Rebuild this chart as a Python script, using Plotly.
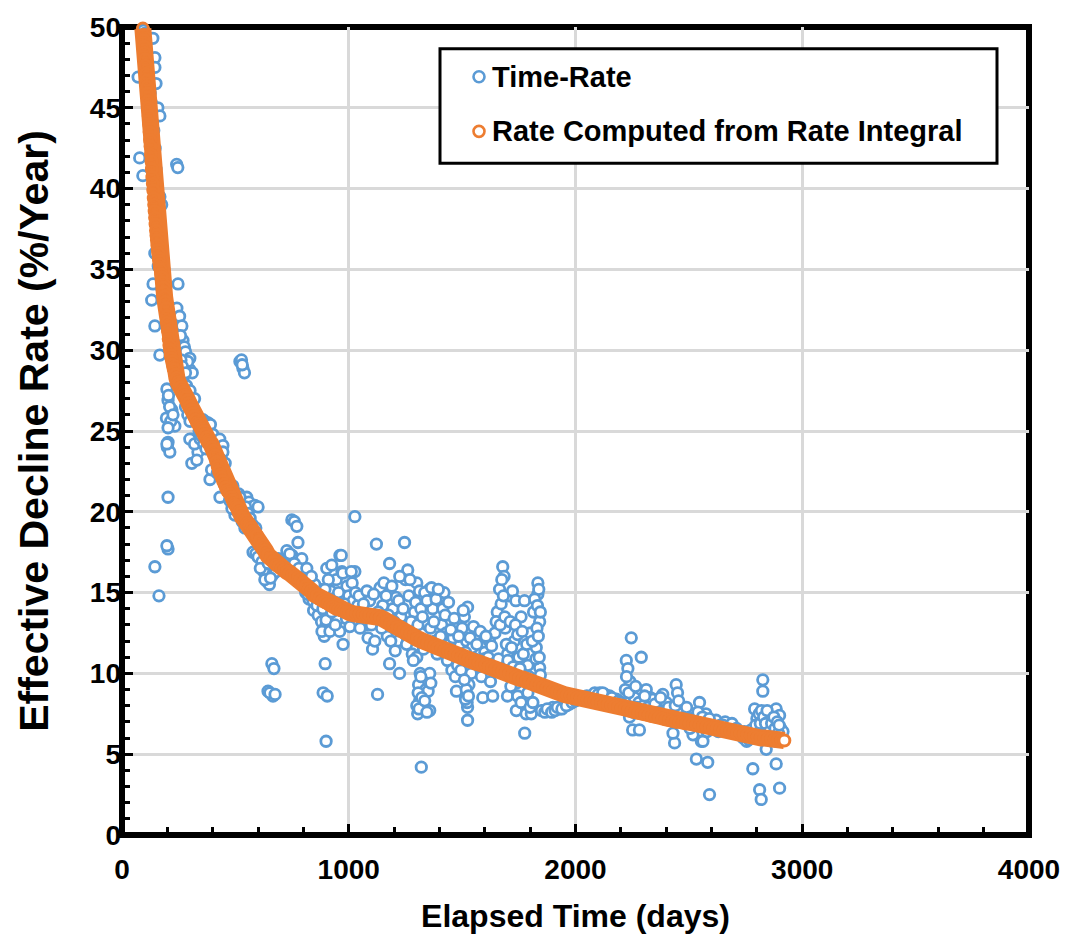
import plotly.graph_objects as go

# ---- measured time-rate effective decline (days, %/year) ----
time_rate_early = [
    (71, 46.9), (78, 41.9), (92, 40.8), (95, 49.8), (100, 49.6), (104, 48.9), (108, 48.2),
    (112, 47.3), (118, 46.6), (124, 45.9), (130, 45.3), (136, 49.3), (145, 48.1), (145, 47.5),
    (150, 46.5), (158, 45.0), (167, 44.5), (140, 43.6), (146, 42.5), (150, 41.2), (153, 40.3),
    (167, 39.5), (175, 39.0), (159, 39.0), (160, 37.8), (163, 37.0), (158, 36.2), (145, 36.0),
    (160, 35.2), (137, 34.1), (131, 33.1), (145, 31.5), (167, 29.7), (176, 33.8), (185, 34.6),
    (190, 33.9), (195, 33.0), (200, 32.4), (205, 31.9), (210, 31.2), (215, 30.7), (220, 30.2),
    (241, 41.5), (246, 41.3), (247, 34.1), (242, 32.6), (254, 32.1), (264, 31.5), (269, 30.6),
    (258, 30.9), (275, 30.2), (280, 29.9), (299, 29.5), (299, 28.8), (290, 29.3), (310, 28.6),
    (198, 27.6), (203, 26.9), (220, 26.3), (233, 25.3), (203, 24.3), (200, 24.0), (196, 25.8),
    (210, 26.5), (205, 27.2), (215, 25.6), (225, 26.0), (203, 25.2), (211, 23.7), (198, 24.2),
    (203, 20.9), (203, 17.7), (198, 17.9), (145, 16.6), (163, 14.8),
    (180, 35.5), (185, 35.0), (190, 34.2), (225, 30.0), (230, 29.6), (236, 29.1), (240, 28.7),
    (250, 28.6), (262, 28.3), (270, 28.1), (285, 27.8), (300, 27.5), (320, 27.0), (260, 29.4),
    (266, 29.0), (280, 28.6),
    (280, 26.5), (290, 26.0), (300, 25.6), (308, 24.5), (308, 23.0), (335, 23.7), (299, 24.5),
    (320, 24.2), (330, 23.2), (345, 24.5), (357, 25.7), (365, 25.6), (380, 25.5), (390, 25.4),
    (400, 24.8), (415, 24.3), (431, 24.5), (445, 24.1), (445, 23.7), (440, 23.2), (455, 23.0),
    (388, 22.0), (395, 22.6), (420, 22.4), (432, 20.9), (460, 22.0), (470, 21.5), (480, 21.6),
    (489, 21.6), (498, 19.8), (505, 20.6), (515, 21.1), (525, 20.8), (535, 20.5), (542, 19.0),
    (550, 20.9), (560, 20.6), (570, 20.3), (586, 20.4), (600, 20.3),
    (340, 25.0), (350, 24.7), (360, 24.2), (370, 23.9), (410, 23.8), (425, 23.3), (450, 22.5),
    (465, 21.9), (475, 20.7), (485, 20.2), (492, 21.2), (510, 20.0), (520, 20.9), (530, 19.4),
    (545, 20.3), (555, 19.9), (565, 19.6), (575, 19.2), (590, 19.0), (595, 18.3),
    (520, 29.3), (527, 29.4), (533, 28.9), (540, 28.6), (530, 29.1),
]

time_rate_middle = [
    (578, 17.5), (590, 17.4), (600, 17.2), (617, 16.9), (625, 16.3), (638, 15.7), (650, 15.5),
    (665, 16.1), (680, 16.3), (661, 10.6), (670, 10.3), (644, 8.9), (666, 8.6), (652, 8.8),
    (675, 8.7),
    (610, 16.5), (630, 15.8), (645, 16.8), (655, 15.9), (690, 17.1), (720, 16.9), (735, 16.7),
    (750, 17.3), (765, 17.0), (790, 16.3), (805, 15.7), (810, 15.0), (825, 14.6), (830, 15.5),
    (845, 13.9), (855, 14.3), (865, 13.6), (875, 15.2), (880, 13.2), (890, 13.9), (892, 12.3),
    (898, 12.9), (905, 14.0), (912, 13.1), (920, 15.1), (930, 13.6), (945, 15.8), (950, 13.3),
    (749, 19.5), (760, 19.4), (771, 19.1), (776, 18.1), (727, 17.6), (740, 17.4), (793, 17.1),
    (700, 16.9), (715, 16.8), (760, 16.8), (780, 16.5), (815, 16.5), (820, 14.9), (842, 14.5),
    (860, 14.2), (870, 14.6), (850, 15.5), (835, 16.0), (903, 16.5), (910, 15.8), (895, 15.2),
    (886, 14.0), (939, 14.5), (882, 12.6), (917, 12.6), (900, 13.3), (925, 13.8), (961, 17.3),
    (970, 16.3), (992, 15.4), (1027, 19.7), (1027, 16.3), (975, 11.8), (960, 12.6), (940, 13.0),
    (896, 10.6), (887, 8.8), (905, 8.6), (900, 5.8),
    (967, 17.3), (974, 16.2), (1011, 16.3), (925, 16.7), (925, 14.6), (1000, 14.8), (1020, 14.5),
    (1040, 14.2), (1060, 13.2), (1075, 13.0), (1092, 14.5), (1105, 11.5), (1122, 18.0),
    (1138, 15.3), (1127, 8.7), (1150, 14.2), (1160, 13.0), (1170, 12.3), (1180, 16.8),
    (1180, 10.6), (1195, 14.0), (1209, 14.7), (1215, 12.0), (1224, 10.0), (1230, 13.5),
    (1246, 18.1), (1250, 15.8), (1260, 16.4), (1265, 14.8), (1270, 12.5), (1280, 11.2),
    (1290, 13.8), (1300, 15.6), (1312, 15.1), (1304, 7.5), (1312, 8.3), (1308, 9.3),
    (1315, 10.0), (1300, 11.0), (1320, 4.2), (1330, 7.8), (1340, 9.0), (1350, 8.9), (1357, 7.7),
    (1357, 10.0), (1356, 15.2), (1345, 13.0), (1370, 14.0), (1380, 12.0), (1400, 14.7),
    (1410, 13.0), (1420, 15.0), (1430, 12.5), (1445, 11.8), (1460, 12.2), (1475, 8.9),
    (955, 15.0), (980, 14.3), (990, 13.4), (1005, 12.9), (1015, 15.6), (1030, 15.0),
    (1045, 14.8), (1050, 12.8), (1065, 14.3), (1080, 15.1), (1085, 12.2), (1100, 13.0),
    (1110, 14.9), (1115, 12.0), (1130, 13.8), (1145, 12.8), (1155, 15.6), (1165, 14.8),
    (1175, 13.6), (1185, 12.0), (1190, 15.4), (1200, 13.2), (1205, 11.4), (1220, 14.5),
    (1225, 16.0), (1235, 12.6), (1240, 14.0), (1255, 11.8), (1270, 15.8), (1275, 13.2),
    (1285, 10.8), (1295, 14.4), (1305, 13.0), (1310, 12.0), (1318, 14.0), (1325, 13.5),
    (1330, 11.5), (1335, 15.0), (1345, 14.5), (1350, 11.8), (1360, 12.8), (1365, 15.3),
    (1375, 13.2), (1385, 14.6), (1390, 11.2), (1395, 15.2), (1405, 12.3), (1415, 14.0),
    (1425, 13.6), (1435, 10.8), (1440, 14.4), (1450, 12.7), (1455, 10.2), (1465, 13.4),
    (1470, 9.8), (1300, 8.0), (1306, 8.8), (1310, 7.8), (1318, 9.8), (1322, 8.5), (1335, 8.3),
    (1345, 7.6), (1362, 9.4),
]

time_rate_late = [
    (1480, 10.5), (1490, 11.7), (1500, 12.8), (1510, 13.5), (1524, 14.1), (1520, 12.0),
    (1524, 7.9), (1524, 7.1), (1530, 9.3), (1545, 11.6), (1560, 12.4), (1570, 10.4), (1591, 8.5),
    (1600, 11.3), (1610, 10.0), (1620, 12.0), (1635, 8.6), (1645, 12.5), (1655, 13.8),
    (1665, 15.2), (1679, 16.6), (1685, 16.0), (1672, 14.3), (1690, 12.8), (1700, 11.2),
    (1705, 14.8), (1710, 9.8), (1722, 15.1), (1730, 12.0), (1737, 14.5), (1739, 9.4),
    (1739, 7.7), (1750, 11.0), (1760, 13.5), (1775, 14.5), (1776, 6.3), (1782, 7.5), (1776, 8.5),
    (1790, 10.5), (1800, 12.5), (1805, 7.5), (1815, 13.8), (1827, 11.6), (1834, 15.6),
    (1834, 14.9), (1842, 13.2), (1842, 10.35), (1838, 15.2), (1830, 12.8),
    (1485, 12.3), (1495, 10.2), (1505, 13.9), (1515, 11.3), (1518, 9.0), (1522, 8.2),
    (1535, 12.2), (1540, 10.0), (1550, 12.9), (1555, 10.9), (1565, 11.8), (1580, 12.6),
    (1585, 9.8), (1595, 10.9), (1605, 12.3), (1615, 11.0), (1625, 9.5), (1630, 11.7),
    (1640, 10.6), (1650, 13.2), (1660, 10.9), (1668, 13.0), (1675, 15.8), (1682, 14.8),
    (1688, 13.5), (1695, 11.8), (1702, 10.8), (1712, 13.2), (1718, 11.6), (1725, 10.4),
    (1735, 13.0), (1745, 12.4), (1755, 10.3), (1765, 12.6), (1770, 11.2), (1785, 11.8),
    (1795, 9.8), (1810, 12.0), (1820, 14.6), (1825, 10.9), (1832, 14.2), (1836, 12.3),
    (1840, 11.0), (1845, 13.8), (1845, 9.9),
    (1510, 9.6), (1515, 8.4), (1528, 8.6), (1700, 8.6), (1715, 9.2), (1745, 8.6), (1760, 8.2),
    (1790, 8.8), (1800, 7.9), (1812, 8.2),
    (1860, 7.7), (1886, 7.7), (1900, 7.9), (1930, 7.8), (1950, 8.0), (1974, 8.1), (1990, 8.3),
    (2010, 8.4), (2040, 8.5), (2070, 8.6), (2107, 8.8), (2130, 8.7), (2150, 8.6), (2180, 8.4),
    (1850, 7.7), (1865, 7.6), (1875, 7.8), (1895, 7.6), (1910, 7.7), (1920, 7.9), (1940, 7.8),
    (1960, 8.0), (1985, 8.2), (2000, 8.3), (2020, 8.4), (2050, 8.6), (2085, 8.8), (2100, 8.7),
    (2120, 8.8), (2160, 8.5), (2190, 8.3), (2200, 8.2),
    (2246, 12.2), (2224, 10.8), (2290, 11.0), (2231, 10.3), (2240, 9.5), (2220, 9.0),
    (2252, 6.5), (2282, 6.5), (2238, 7.3), (2260, 8.5), (2280, 8.2), (2300, 8.0), (2312, 9.0),
    (2330, 8.5), (2341, 8.4), (2360, 7.9), (2385, 8.7), (2400, 8.2), (2420, 7.7), (2444, 9.3),
    (2450, 8.8), (2437, 5.7), (2430, 6.3), (2460, 7.5), (2480, 7.3), (2500, 7.6), (2518, 6.2),
    (2533, 4.7), (2547, 8.2), (2555, 5.8), (2562, 5.8), (2575, 7.5), (2583, 4.5), (2591, 2.5),
    (2600, 7.0), (2620, 7.1), (2640, 6.8), (2660, 7.0), (2680, 6.7), (2700, 6.5), (2720, 6.3),
    (2740, 6.0), (2755, 5.8), (2770, 6.1),
    (2225, 9.8), (2235, 8.8), (2245, 7.8), (2255, 7.6), (2265, 9.2), (2270, 7.9), (2290, 7.7),
    (2305, 8.6), (2320, 7.9), (2350, 8.1), (2370, 7.6), (2375, 8.5), (2395, 7.5), (2410, 7.9),
    (2425, 7.3), (2440, 8.0), (2455, 8.3), (2470, 7.1), (2490, 7.9), (2505, 6.6), (2510, 7.2),
    (2525, 6.9), (2540, 7.6), (2560, 7.3), (2580, 6.4), (2590, 7.2), (2610, 6.7), (2630, 6.4),
    (2650, 6.8), (2670, 6.5), (2690, 6.9), (2710, 6.6), (2730, 6.2), (2745, 6.4), (2765, 5.9),
    (2775, 6.5),
    (2782, 4.1), (2790, 6.0), (2790, 7.8), (2800, 7.2), (2812, 2.8), (2819, 2.2), (2826, 9.6),
    (2826, 8.9), (2830, 7.0), (2835, 6.5), (2841, 7.4), (2841, 5.3), (2850, 6.8), (2860, 7.2),
    (2870, 6.2), (2885, 7.8), (2885, 5.8), (2885, 4.4), (2900, 7.4), (2900, 2.9), (2905, 6.6),
    (2910, 6.2), (2915, 6.4),
    (2795, 6.8), (2805, 6.3), (2810, 7.5), (2815, 6.9), (2820, 7.7), (2825, 6.2), (2830, 7.3),
    (2838, 6.9), (2845, 7.7), (2855, 6.4), (2865, 6.9), (2875, 7.3), (2880, 6.6), (2890, 7.0),
    (2895, 6.3), (2898, 6.8),
]

# ---- decline rate computed from the rate integral (days, %/year) ----
integral_pts = [
    (92, 49.9), (94, 49.5), (96, 49.2), (98, 48.8), (100, 48.4), (102, 48.0), (104, 47.6),
    (106, 47.1), (108, 46.7), (110, 46.3), (112, 45.9), (114, 45.4), (116, 45.0), (118, 44.5),
    (120, 44.0), (122, 43.5), (124, 43.0), (126, 42.6), (128, 42.1), (130, 41.7), (132, 41.2),
    (134, 40.7), (136, 40.3), (138, 39.9), (140, 39.4), (142, 39.0), (144, 38.6), (146, 38.2),
    (148, 37.8), (150, 37.4), (152, 37.1), (154, 36.8), (156, 36.5), (158, 36.2), (160, 36.0),
    (162, 35.7), (164, 35.5), (166, 35.3), (168, 35.1), (170, 35.0),
    (173, 34.7), (176, 34.5), (179, 34.2), (182, 33.9), (185, 33.6), (188, 33.3), (191, 33.0),
    (194, 32.6), (197, 32.1), (200, 31.7), (203, 31.2), (206, 30.7), (209, 30.3), (212, 30.0),
    (215, 29.7), (218, 29.5), (221, 29.3), (224, 29.1), (227, 28.9), (230, 28.8),
    (236, 28.5), (242, 28.3), (248, 28.0), (254, 27.9), (260, 27.7), (266, 27.5), (272, 27.4),
    (278, 27.2), (284, 27.1), (290, 26.9), (296, 26.7), (302, 26.5), (308, 26.3), (314, 26.1),
    (320, 25.9), (326, 25.7), (332, 25.5), (338, 25.4), (344, 25.3), (350, 25.2), (356, 25.1),
    (362, 25.0), (368, 24.8), (374, 24.6), (380, 24.4), (386, 24.3), (392, 24.2), (398, 24.0),
    (404, 23.8), (410, 23.5), (416, 23.1), (422, 22.8), (428, 22.5), (434, 22.3), (440, 22.1),
    (446, 21.9), (452, 21.7), (458, 21.5), (464, 21.3), (470, 21.2), (476, 21.1), (482, 20.9),
    (488, 20.7), (494, 20.5), (500, 20.4), (506, 20.3), (512, 20.2), (518, 20.0), (524, 19.9),
    (530, 19.7), (536, 19.6), (542, 19.5), (548, 19.4), (554, 19.3), (560, 19.2), (566, 19.1),
    (572, 19.0), (578, 18.8), (584, 18.7), (590, 18.6), (596, 18.5),
    (608, 18.2), (620, 17.9), (632, 17.6), (644, 17.3), (656, 17.1), (668, 16.9), (680, 16.7),
    (692, 16.6), (704, 16.5), (716, 16.4), (728, 16.3), (740, 16.2), (752, 16.1), (764, 16.0),
    (776, 15.9), (788, 15.8), (800, 15.6), (812, 15.4), (824, 15.2), (836, 15.1), (848, 14.9),
    (860, 14.8), (872, 14.6), (884, 14.5), (896, 14.4), (908, 14.3), (920, 14.2), (932, 14.1),
    (944, 14.0), (956, 13.95), (968, 13.9), (980, 13.85), (992, 13.8), (1004, 13.75),
    (1019, 13.7), (1034, 13.7), (1049, 13.65), (1064, 13.65), (1079, 13.6), (1094, 13.6),
    (1109, 13.55), (1124, 13.5), (1139, 13.45), (1154, 13.35), (1169, 13.2), (1184, 13.05),
    (1199, 12.95), (1214, 12.85), (1229, 12.75), (1244, 12.65), (1259, 12.55), (1274, 12.45),
    (1289, 12.3), (1304, 12.15), (1319, 12.05), (1334, 11.95), (1349, 11.85), (1364, 11.75),
    (1379, 11.65), (1394, 11.55), (1409, 11.5), (1424, 11.4), (1439, 11.35), (1454, 11.25),
    (1469, 11.15), (1484, 11.1), (1499, 11.0), (1514, 10.95), (1529, 10.85), (1544, 10.8),
    (1559, 10.7), (1574, 10.65), (1589, 10.55), (1604, 10.5), (1619, 10.4), (1634, 10.35),
    (1649, 10.3), (1664, 10.2), (1679, 10.15), (1694, 10.05), (1709, 10.0), (1724, 9.9),
    (1739, 9.8), (1754, 9.7), (1769, 9.65), (1784, 9.55), (1799, 9.5), (1814, 9.4),
    (1829, 9.3), (1844, 9.25), (1859, 9.15), (1874, 9.1), (1889, 9.0), (1904, 8.95),
    (1919, 8.85), (1934, 8.8), (1949, 8.7), (1964, 8.65), (1979, 8.6), (1994, 8.55),
    (2009, 8.5), (2024, 8.45), (2039, 8.4), (2054, 8.35), (2069, 8.3), (2084, 8.25),
    (2099, 8.2), (2114, 8.15), (2129, 8.1), (2144, 8.05), (2159, 8.0), (2174, 7.95),
    (2189, 7.9), (2204, 7.85), (2219, 7.8), (2234, 7.7), (2249, 7.65), (2264, 7.6),
    (2279, 7.55), (2294, 7.5), (2309, 7.45), (2324, 7.4), (2339, 7.35), (2354, 7.3),
    (2369, 7.25), (2384, 7.2), (2399, 7.15), (2414, 7.1), (2429, 7.05), (2444, 7.0),
    (2459, 7.0), (2474, 6.95), (2489, 6.9), (2504, 6.9), (2519, 6.85), (2534, 6.8),
    (2549, 6.8), (2564, 6.75), (2579, 6.7), (2594, 6.65), (2609, 6.6), (2624, 6.6),
    (2639, 6.55), (2654, 6.5), (2669, 6.45), (2684, 6.4), (2699, 6.35), (2714, 6.3),
    (2729, 6.3), (2744, 6.25), (2759, 6.2), (2774, 6.15), (2789, 6.1), (2804, 6.05),
    (2819, 6.0), (2834, 6.0), (2849, 5.95), (2864, 5.95), (2879, 5.9), (2894, 5.9),
    (2909, 5.85), (2921, 5.85),
]

x_ticks = [0, 1000, 2000, 3000, 4000]
y_ticks = [0, 5, 10, 15, 20, 25, 30, 35, 40, 45, 50]
series_names = ["Time-Rate", "Rate Computed from Rate Integral"]

BLUE = "#5B9BD5"
ORANGE = "#ED7D31"
FONT = "Liberation Sans"

time_rate_pts = time_rate_early + time_rate_middle + time_rate_late
tr_days, tr_rate = zip(*time_rate_pts)
ri_days, ri_rate = zip(*integral_pts)

fig = go.Figure()
fig.add_trace(go.Scatter(
    x=tr_days, y=tr_rate, mode="markers", name=series_names[0],
    marker=dict(symbol="circle", size=10.5, color="white",
                line=dict(color=BLUE, width=2.8)),
    showlegend=False, cliponaxis=False,
))
# the computed-rate series is sampled densely enough to read as a solid band
ri_fill = ["rgba(0,0,0,0)"] * (len(ri_days) - 1) + ["white"]
fig.add_trace(go.Scatter(
    x=ri_days, y=ri_rate, mode="lines+markers", name=series_names[1],
    line=dict(color=ORANGE, width=17),
    marker=dict(symbol="circle", size=11, color=ri_fill,
                line=dict(color=ORANGE, width=3)),
    showlegend=False, cliponaxis=False,
))

tick_font = dict(family=FONT, size=28, color="black", weight="bold")

fig.update_xaxes(
    range=[0, 4000], tickvals=x_ticks, ticktext=[str(v) for v in x_ticks],
    showgrid=True, gridcolor="#D9D9D9", gridwidth=2.5, zeroline=False,
    showline=False, ticks="inside", ticklen=11, tickwidth=3, tickcolor="black",
    minor=dict(dtick=200, ticks="inside", ticklen=8, tickwidth=3, tickcolor="black",
               showgrid=False),
    tickfont=tick_font, ticklabelstandoff=15,
    title=dict(text="Elapsed Time (days)", standoff=20,
               font=dict(family=FONT, size=32, color="black", weight="bold")),
)
fig.update_yaxes(
    range=[0, 50], tickvals=y_ticks, ticktext=[str(v) for v in y_ticks],
    showgrid=True, gridcolor="#D9D9D9", gridwidth=2.5, zeroline=False,
    showline=False, ticks="inside", ticklen=11, tickwidth=3, tickcolor="black",
    minor=dict(dtick=1, ticks="inside", ticklen=8, tickwidth=3, tickcolor="black",
               showgrid=False),
    tickfont=tick_font,
    title=dict(text="Effective Decline Rate (%/Year)", standoff=28,
               font=dict(family=FONT, size=41, color="black", weight="bold")),
)

# plot frame
fig.add_shape(type="rect", xref="paper", yref="paper", x0=0, x1=1, y0=0, y1=1,
              line=dict(color="black", width=6), layer="below")

# legend box with entries
fig.add_shape(type="rect", xref="paper", yref="paper",
              x0=(440 - 122) / 907, x1=(997 - 122) / 907,
              y0=(835 - 159) / 813, y1=(835 - 44) / 813,
              line=dict(color="black", width=3), fillcolor="white", layer="above")
legend_rows = [(series_names[0], BLUE, 72), (series_names[1], ORANGE, 127)]
for label, col, ypx in legend_rows:
    yp = (835 - ypx) / 813
    fig.add_shape(type="circle", xref="paper", yref="paper",
                  xsizemode="pixel", ysizemode="pixel",
                  xanchor=(479 - 122) / 907, yanchor=yp,
                  x0=-5.5, x1=5.5, y0=-5.5, y1=5.5,
                  line=dict(color=col, width=2.6), fillcolor="white", layer="above")
    fig.add_annotation(x=(490 - 122) / 907, y=yp, xref="paper", yref="paper",
                       xanchor="left", yanchor="middle", showarrow=False,
                       text=label, font=dict(family=FONT, size=29, color="black",
                                             weight="bold"))

fig.update_layout(
    width=1092, height=942,
    margin=dict(l=122, r=63, t=22, b=107),
    paper_bgcolor="white", plot_bgcolor="white",
    showlegend=False,
)

fig.write_html("out.html")
